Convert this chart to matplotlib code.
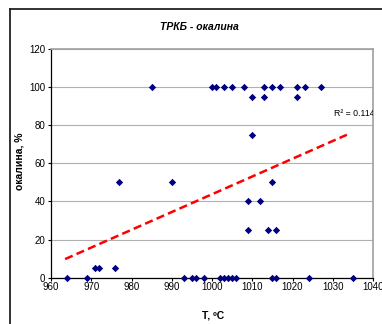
import matplotlib
matplotlib.use("Agg")
import matplotlib.pyplot as plt
import numpy as np
from matplotlib.lines import Line2D

plt.rcParams['font.family'] = ['Liberation Sans', 'DejaVu Sans']

# data
t_vals = [964, 969, 993, 995, 996, 998, 1002, 1003, 1004, 1005, 1006, 1015, 1016, 1024, 1035,
          971, 972, 976,
          1009, 1014, 1016,
          1009, 1012,
          977, 990, 1015,
          1010,
          1010, 1013, 1021,
          985, 1000, 1001, 1003, 1005, 1008, 1013, 1015, 1017, 1021, 1023, 1027]
scale_vals = [0]*15 + [5]*3 + [25]*3 + [40]*2 + [50]*3 + [75] + [95]*3 + [100]*12
trend_slope = 0.932
trend_intercept = 6.5 - 0.932 * 960
trend_x = [963.5, 1033.5]
x_ticks = [960, 970, 980, 990, 1000, 1010, 1020, 1030, 1040]
y_ticks = [0, 20, 40, 60, 80, 100, 120]
title = "ТРКБ - окалина"
xlabel = "T, ºC"
ylabel = "окалина, %"
r2_text = "R² = 0.1145"

fig = plt.figure(figsize=(3.82, 3.24), dpi=100)
ax = fig.add_axes([51/382, 1-277.7/324, (373-51)/382, (277.7-49)/324])

# outer border
fig.add_artist(Line2D([10/382, 10/382], [0, 1-9/324], color='#222222', lw=1.3, transform=fig.transFigure))
fig.add_artist(Line2D([10/382, 1], [1-9/324, 1-9/324], color='#222222', lw=1.3, transform=fig.transFigure))

ax.set_xlim(960, 1040)
ax.set_ylim(0, 120)
ax.set_xticks(x_ticks)
ax.set_yticks(y_ticks)
ax.yaxis.grid(True, color='#b0b0b0', lw=0.8)
ax.set_axisbelow(True)
for s in ['top', 'right']:
    ax.spines[s].set_color('#a0a0a0')
    ax.spines[s].set_linewidth(1.2)
for s in ['left', 'bottom']:
    ax.spines[s].set_color('black')
    ax.spines[s].set_linewidth(0.9)
ax.tick_params(axis='both', labelsize=7, length=2.5, width=0.8, pad=1.5, direction='out')
ax.tick_params(axis='x', pad=0.5)

ax.scatter(t_vals, scale_vals, marker='D', s=14, color='#000080', zorder=3, clip_on=False, linewidths=0)

tx = np.array(trend_x)
ax.plot(tx, trend_intercept + trend_slope * tx, color='#ff0000', lw=1.8, dashes=(3.3, 1.7), zorder=2)

ax.text(1030.2, 86, r2_text, fontsize=6.3, clip_on=True, ha='left', va='center')

fig.text(199/382, 1-27/324, title, fontsize=7.5, fontweight='bold', fontstyle='italic', ha='center', va='center')
fig.text(213/382, 1-316/324, xlabel, fontsize=7.5, fontweight='bold', ha='center', va='center')
fig.text(20/382, 1-161/324, ylabel, fontsize=7.5, fontweight='bold', ha='center', va='center', rotation=90)

fig.savefig("out.png", dpi=100)
